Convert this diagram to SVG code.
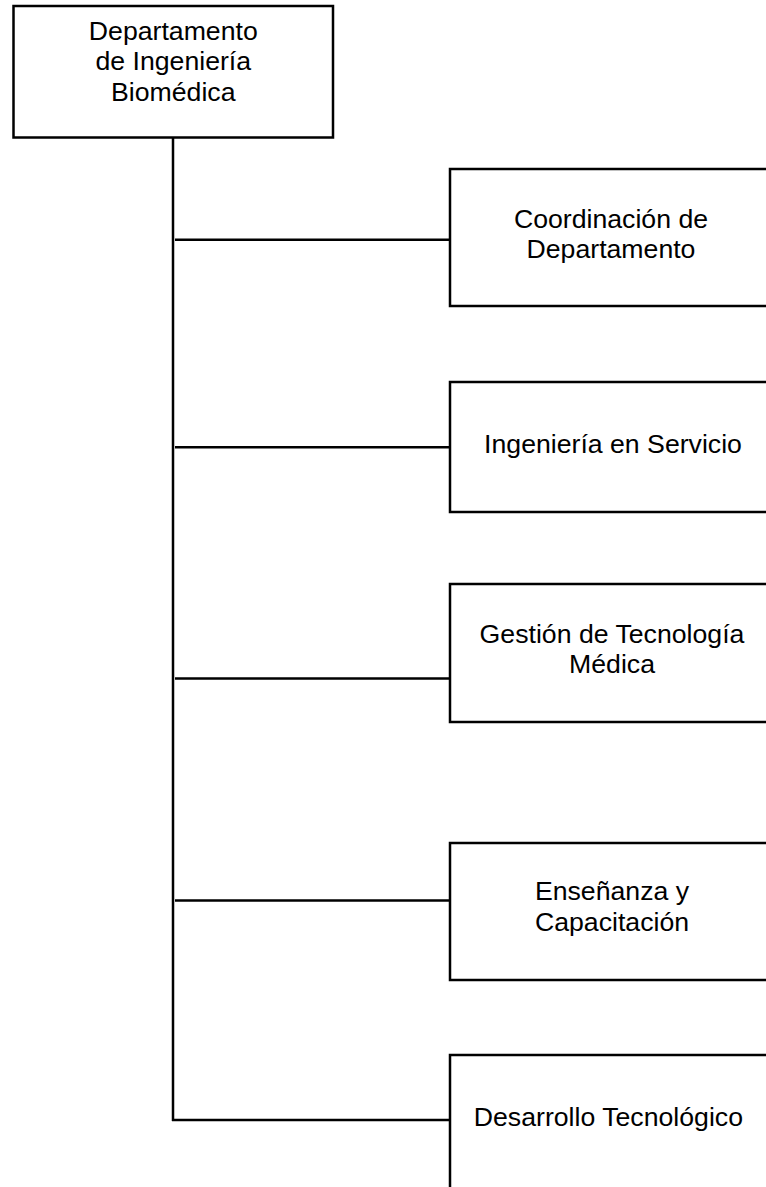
<svg xmlns="http://www.w3.org/2000/svg" width="766" height="1187" viewBox="0 0 766 1187">
<style>
.box{fill:#fff;stroke:#000;stroke-width:2.5}
.ln{stroke:#000;stroke-width:2.5;fill:none}
.t{font-family:"Liberation Sans",Arial,sans-serif;font-size:26.67px;fill:#000;text-anchor:middle}
</style>
<rect width="766" height="1187" fill="#fff"/>
<g id="connectors">
<line class="ln" x1="173" y1="137" x2="173" y2="1121"/>
<line class="ln" x1="175" y1="239.7" x2="450" y2="239.7"/>
<line class="ln" x1="175" y1="447.3" x2="450" y2="447.3"/>
<line class="ln" x1="175" y1="678.5" x2="450" y2="678.5"/>
<line class="ln" x1="175" y1="900.5" x2="450" y2="900.5"/>
<line class="ln" x1="172" y1="1120" x2="450" y2="1120"/>
</g>
<g id="root">
<rect class="box" x="13.5" y="6" width="319.5" height="131.5"/>
<text class="t" x="173.3" y="39.5">Departamento</text>
<text class="t" x="173.3" y="70">de Ingeniería</text>
<text class="t" x="173.3" y="100.5">Biomédica</text>
</g>
<g id="n1">
<rect class="box" x="450" y="169" width="330" height="137"/>
<text class="t" x="611" y="227.5">Coordinación de</text>
<text class="t" x="611" y="258">Departamento</text>
</g>
<g id="n2">
<rect class="box" x="450" y="382" width="330" height="130"/>
<text class="t" x="613" y="453.3">Ingeniería en Servicio</text>
</g>
<g id="n3">
<rect class="box" x="450" y="584" width="330" height="138"/>
<text class="t" x="612" y="642.7">Gestión de Tecnología</text>
<text class="t" x="612" y="673">Médica</text>
</g>
<g id="n4">
<rect class="box" x="450" y="843" width="330" height="137"/>
<text class="t" x="612" y="900">Enseñanza y</text>
<text class="t" x="612" y="930.7">Capacitación</text>
</g>
<g id="n5">
<rect class="box" x="450" y="1055" width="330" height="145"/>
<text class="t" x="608.4" y="1125.5">Desarrollo Tecnológico</text>
</g>
</svg>
